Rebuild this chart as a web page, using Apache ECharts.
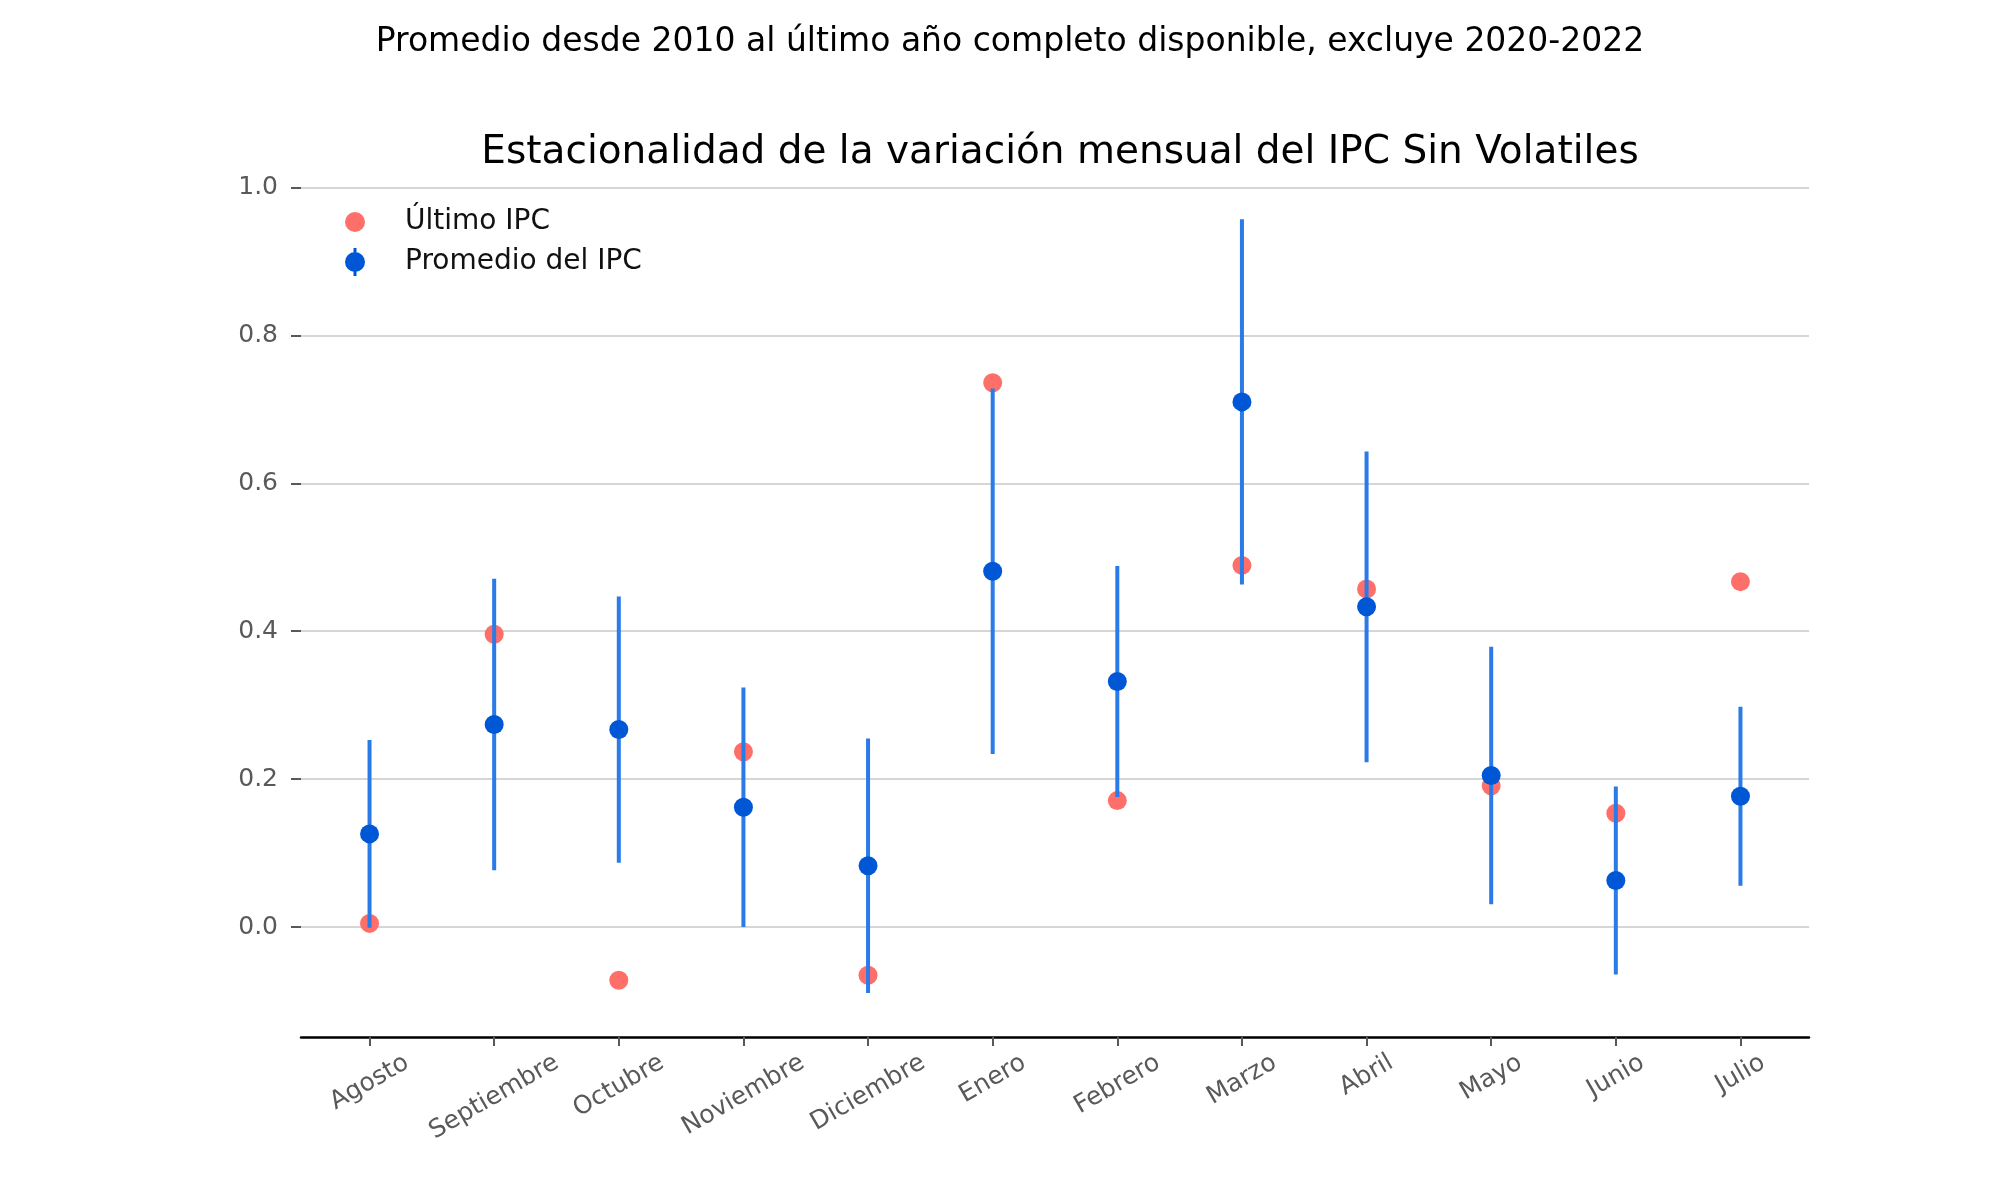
<!DOCTYPE html>
<html>
<head>
<meta charset="utf-8">
<script src="https://cdn.jsdelivr.net/npm/echarts@6/dist/echarts.min.js"></script>
<style>
html,body{margin:0;padding:0;background:#fff;}
#chart{width:2000px;height:1200px;}
</style>
</head>
<body>
<div id="chart"></div>
<script>
// ---- data ----
const months = ['Agosto','Septiembre','Octubre','Noviembre','Diciembre','Enero','Febrero','Marzo','Abril','Mayo','Junio','Julio'];
const ultimoIPC = [0.005, 0.396, -0.072, 0.237, -0.065, 0.736, 0.171, 0.489, 0.457, 0.191, 0.154, 0.467];
const promedioIPC = [0.126, 0.274, 0.267, 0.162, 0.083, 0.481, 0.332, 0.710, 0.433, 0.205, 0.063, 0.177];
const errorIPC = [0.127, 0.197, 0.180, 0.162, 0.172, 0.247, 0.156, 0.247, 0.210, 0.174, 0.127, 0.121];
const yTicks = [0.0, 0.2, 0.4, 0.6, 0.8, 1.0];
const yTickLabels = ['0.0','0.2','0.4','0.6','0.8','1.0'];
const suptitle = 'Promedio desde 2010 al último año completo disponible, excluye 2020-2022';
const chartTitle = 'Estacionalidad de la variación mensual del IPC Sin Volatiles';

const FONT = '"DejaVu Sans", sans-serif';
const GREY = '#595959';
const LABEL_SIZE = 25;

// measure x labels to emulate matplotlib's centered rotated labels
const cv = document.createElement('canvas').getContext('2d');
cv.font = LABEL_SIZE + 'px "DejaVu Sans"';
const rich = {};
months.forEach((m, i) => {
  const w = cv.measureText(m).width;
  const d = w / 4;
  rich['m' + i] = {
    fontSize: LABEL_SIZE, fontFamily: FONT, color: GREY,
    padding: [1.732 * d, d, 0, 0]
  };
});

const xIdx = months.map((m, i) => i);
const chart = echarts.init(document.getElementById('chart'));
chart.setOption({
  animation: false,
  backgroundColor: '#fff',
  title: [
    { text: suptitle, left: 1005, textAlign: 'center', top: 21,
      textStyle: { fontFamily: FONT, fontSize: 33, fontWeight: 'normal', color: '#000' } },
    { text: chartTitle, left: 1055, textAlign: 'center', top: 128,
      textStyle: { fontFamily: FONT, fontSize: 39, fontWeight: 'normal', color: '#000' } }
  ],
  legend: {
    orient: 'vertical', left: 340, top: 203, itemWidth: 20, itemHeight: 28, itemGap: 12,
    textStyle: { fontFamily: FONT, fontSize: 28, color: '#111', padding: [0, 0, 0, 35] },
    data: [
      { name: 'Último IPC', icon: 'circle' },
      { name: 'Promedio del IPC', icon: 'path://M0,14 A10,10 0 1,1 20,14 A10,10 0 1,1 0,14 Z M8.5,0 L11.5,0 L11.5,28 L8.5,28 Z' }
    ]
  },
  grid: { left: 301, top: 180, width: 1508, height: 857, containLabel: false },
  xAxis: {
    type: 'value', min: -0.55, max: 11.55,
    axisLine: { show: true, onZero: false, lineStyle: { color: '#000', width: 2.5 } },
    axisTick: { show: true, length: 9, customValues: xIdx, lineStyle: { color: GREY, width: 2 } },
    axisLabel: {
      customValues: xIdx, rotate: 30, align: 'center', verticalAlign: 'middle', margin: 24,
      formatter: v => '{m' + v + '|' + months[v] + '}', rich: rich,
      fontSize: LABEL_SIZE, fontFamily: FONT, color: GREY
    },
    splitLine: { show: false }
  },
  yAxis: {
    type: 'value', min: -0.1486, max: 1.01,
    axisLine: { show: false, onZero: false },
    axisTick: { show: true, length: 10, customValues: yTicks, lineStyle: { color: GREY, width: 2 } },
    axisLabel: {
      customValues: yTicks, margin: 23,
      formatter: v => yTickLabels[yTicks.indexOf(Math.round(v * 10) / 10)],
      fontSize: LABEL_SIZE, fontFamily: FONT, color: GREY
    },
    splitLine: { show: true, lineStyle: { color: '#d6d6d6', width: 2 } }
  },
  series: [
    {
      name: 'Último IPC', type: 'scatter', symbol: 'circle', symbolSize: 19, z: 2,
      itemStyle: { color: '#ff6f69', opacity: 1 },
      data: ultimoIPC.map((v, i) => [i, v])
    },
    {
      name: 'errbar', type: 'custom', z: 3,
      renderItem: (params, api) => {
        const i = api.value(0), m = api.value(1), e = api.value(2);
        const p1 = api.coord([i, m - e]);
        const p2 = api.coord([i, m + e]);
        return { type: 'line', shape: { x1: p1[0], y1: p1[1], x2: p2[0], y2: p2[1] },
                 style: { stroke: '#2a7ae8', lineWidth: 4 } };
      },
      encode: { x: 0, y: 1 },
      data: promedioIPC.map((v, i) => [i, v, errorIPC[i]])
    },
    {
      name: 'Promedio del IPC', type: 'scatter', symbol: 'circle', symbolSize: 19, z: 4,
      itemStyle: { color: '#0057d6', opacity: 1 },
      data: promedioIPC.map((v, i) => [i, v])
    }
  ]
});
</script>
</body>
</html>
